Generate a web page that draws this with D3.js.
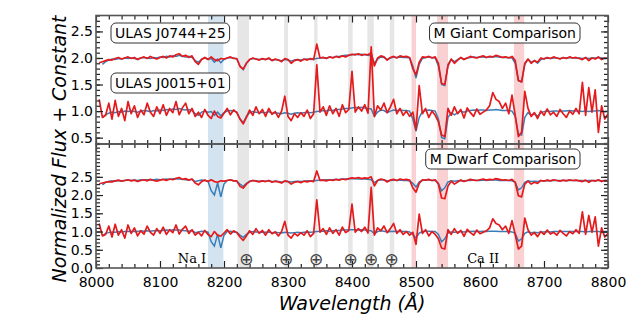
<!DOCTYPE html>
<html>
<head>
<meta charset="utf-8">
<script src="https://cdn.jsdelivr.net/npm/d3@7"></script>
<style>
body { margin: 0; background: #ffffff; }
text { font-family: "DejaVu Sans", sans-serif; fill: #000; }
</style>
</head>
<body>
<div id="chart_box"></div>
<script>
// wavelength grid (Angstrom)
var wave = [
    8005, 8010, 8015, 8020, 8025, 8030, 8035, 8040, 8045, 8050,
    8055, 8060, 8065, 8070, 8075, 8080, 8085, 8090, 8095, 8100,
    8105, 8110, 8115, 8120, 8125, 8130, 8135, 8140, 8145, 8150,
    8155, 8160, 8165, 8170, 8175, 8180, 8185, 8190, 8195, 8200,
    8205, 8210, 8215, 8220, 8225, 8230, 8235, 8240, 8245, 8250,
    8255, 8260, 8265, 8270, 8275, 8280, 8285, 8290, 8295, 8300,
    8305, 8310, 8315, 8320, 8325, 8330, 8335, 8340, 8345, 8350,
    8355, 8360, 8365, 8370, 8375, 8380, 8385, 8390, 8395, 8400,
    8405, 8410, 8415, 8420, 8425, 8430, 8435, 8440, 8445, 8450,
    8455, 8460, 8465, 8470, 8475, 8480, 8485, 8490, 8495, 8500,
    8505, 8510, 8515, 8520, 8525, 8530, 8535, 8540, 8545, 8550,
    8555, 8560, 8565, 8570, 8575, 8580, 8585, 8590, 8595, 8600,
    8605, 8610, 8615, 8620, 8625, 8630, 8635, 8640, 8645, 8650,
    8655, 8660, 8665, 8670, 8675, 8680, 8685, 8690, 8695, 8700,
    8705, 8710, 8715, 8720, 8725, 8730, 8735, 8740, 8745, 8750,
    8755, 8760, 8765, 8770, 8775, 8780, 8785, 8790, 8795, 8800
];

// ULAS J0744+25 (red, upper spectrum)
var j0744 = [
    0.91, 0.93, 0.95, 0.97, 0.96, 0.99, 1.01, 0.98, 1.00, 1.02,
    0.99, 1.01, 0.97, 1.00, 1.02, 0.99, 1.03, 1.00, 0.98, 1.01,
    1.03, 1.00, 1.04, 1.02, 1.06, 1.08, 1.03, 1.05, 1.01, 1.04,
    0.93, 0.88, 0.97, 1.01, 0.97, 1.02, 0.97, 0.95, 0.99, 0.98,
    1.00, 1.02, 0.99, 0.99, 0.84, 0.79, 0.90, 0.97, 1.00, 0.98,
    0.96, 0.99, 0.97, 1.00, 0.95, 0.98, 0.96, 0.93, 0.99, 0.97,
    0.90, 0.95, 0.97, 0.94, 0.98, 0.96, 0.99, 0.97, 1.26, 1.00,
    1.01, 0.99, 1.02, 1.00, 1.03, 1.01, 1.04, 1.02, 1.05, 1.07,
    1.06, 1.08, 1.05, 1.07, 1.06, 1.10, 0.85, 1.00, 1.04, 1.02,
    0.96, 1.01, 1.03, 1.00, 1.04, 1.02, 1.03, 1.01, 0.80, 0.68,
    0.92, 1.02, 1.01, 1.03, 1.00, 1.02, 0.90, 0.52, 0.50, 0.85,
    0.98, 0.90, 0.96, 1.01, 0.97, 1.00, 1.03, 1.01, 1.00, 1.02,
    1.04, 1.01, 1.03, 1.02, 1.05, 1.03, 1.01, 1.02, 1.00, 1.03,
    0.95, 0.58, 0.55, 0.90, 0.98, 0.90, 0.95, 0.92, 1.00, 0.98,
    1.01, 0.99, 1.02, 1.00, 0.98, 1.01, 0.99, 1.02, 1.00, 1.01,
    0.99, 0.97, 1.01, 0.95, 1.00, 0.98, 1.02, 0.97, 1.00, 0.99
];

// ULAS J0015+01 (red, lower spectrum)
var j0015 = [
    1.22, 0.88, 0.92, 1.15, 0.85, 1.20, 0.90, 1.05, 0.82, 1.18,
    0.95, 1.10, 0.88, 1.02, 0.93, 1.15, 0.98, 0.90, 1.08, 0.95,
    1.12, 0.92, 1.05, 0.97, 1.18, 0.93, 1.06, 1.15, 0.95, 1.05,
    0.90, 0.98, 0.88, 1.03, 0.92, 0.86, 1.00, 0.90, 0.87, 0.96,
    1.05, 0.93, 1.02, 0.97, 0.85, 0.76, 0.88, 1.02, 0.92, 1.08,
    0.95, 1.03, 0.90, 1.05, 0.94, 0.99, 0.88, 1.00, 1.28, 0.90,
    0.82, 0.95, 0.88, 0.97, 0.90, 1.02, 0.86, 0.95, 1.87, 0.98,
    1.08, 0.92, 1.10, 0.95, 1.05, 0.90, 1.12, 0.97, 1.03, 1.75,
    0.98, 1.08, 1.00, 1.12, 0.96, 2.21, 0.90, 1.10, 1.02, 1.15,
    0.97, 1.08, 1.22, 0.95, 1.05, 0.92, 1.00, 0.90, 0.98, 0.65,
    1.48, 0.95, 1.05, 0.88, 1.00, 0.92, 0.80, 0.55, 0.52, 1.05,
    0.92, 1.08, 0.95, 1.03, 0.87, 1.06, 0.97, 0.90, 1.04, 0.94,
    0.98, 1.02, 1.10, 1.35, 1.22, 1.18, 1.05, 1.15, 0.95, 1.30,
    0.92, 0.52, 0.60, 1.37, 1.05, 0.90, 0.97, 0.86, 1.00, 0.92,
    1.04, 0.93, 0.98, 0.90, 1.03, 0.95, 0.88, 1.00, 0.94, 1.05,
    0.95, 1.54, 0.92, 1.44, 0.98, 1.40, 0.60, 1.10, 0.85, 0.95
];

// M giant comparison template (blue, top panel)
var giantTemplate = [
    null, 0.88, 0.93, 0.96, 0.98, 0.97, 0.99, 0.98, 1.00, 0.99,
    1.00, 0.99, 0.98, 1.00, 1.01, 1.00, 0.99, 1.01, 1.00, 1.02,
    1.01, 1.03, 1.02, 1.04, 1.03, 1.05, 1.03, 1.02, 1.03, 1.01,
    0.95, 0.92, 0.98, 1.00, 0.98, 0.99, 0.92, 0.98, 0.91, 0.97,
    1.00, 1.01, 1.00, 0.98, 0.85, 0.78, 0.90, 0.97, 0.99, 0.98,
    0.97, 0.98, 0.97, 0.99, 0.96, 0.97, 0.96, 0.95, 0.97, 0.96,
    0.94, 0.96, 0.97, 0.96, 0.97, 0.98, 0.97, 0.98, 0.99, 1.00,
    1.01, 1.00, 1.02, 1.01, 1.03, 1.03, 1.04, 1.05, 1.05, 1.06,
    1.07, 1.06, 1.07, 1.06, 1.05, 1.04, 0.90, 0.98, 1.02, 1.01,
    0.97, 1.00, 1.02, 1.01, 1.02, 1.01, 1.01, 1.00, 0.85, 0.62,
    0.88, 0.99, 1.01, 1.02, 1.01, 1.00, 0.85, 0.50, 0.48, 0.88,
    0.97, 0.93, 0.97, 1.00, 0.98, 1.00, 1.01, 1.02, 1.01, 1.02,
    1.02, 1.01, 1.02, 1.02, 1.03, 1.02, 1.01, 1.01, 1.01, 1.00,
    0.90, 0.57, 0.55, 0.88, 0.97, 0.92, 0.95, 0.90, 0.97, 0.99,
    1.00, 0.99, 1.00, 1.00, 0.99, 1.00, 1.00, 1.01, 1.00, 1.00,
    1.00, 0.99, 1.00, 0.99, 1.00, 1.00, 1.01, 1.00, 0.99, 1.00
];

// M dwarf comparison template (blue, bottom panel)
var dwarfTemplate = [
    null, 0.88, 0.95, 0.97, 0.99, 0.98, 1.00, 0.99, 1.00, 1.01,
    1.00, 1.01, 1.00, 1.02, 1.01, 1.02, 1.01, 1.02, 1.03, 1.02,
    1.03, 1.04, 1.03, 1.05, 1.04, 1.04, 1.03, 1.02, 1.01, 1.03,
    0.97, 0.99, 1.01, 1.00, 0.98, 0.72, 0.60, 0.93, 0.55, 0.90,
    1.00, 1.01, 0.99, 0.98, 0.90, 0.84, 0.92, 0.98, 1.00, 0.99,
    0.98, 0.99, 0.98, 0.99, 0.97, 0.98, 0.97, 0.96, 0.98, 0.97,
    0.96, 0.97, 0.98, 0.97, 0.98, 0.99, 0.98, 0.99, 1.00, 1.01,
    1.01, 1.02, 1.01, 1.02, 1.03, 1.03, 1.04, 1.04, 1.05, 1.05,
    1.05, 1.04, 1.05, 1.04, 1.03, 1.02, 0.94, 1.00, 1.02, 1.01,
    0.99, 1.00, 1.01, 1.00, 1.01, 1.00, 1.00, 0.99, 0.92, 0.82,
    0.96, 1.00, 1.01, 1.01, 1.00, 1.00, 0.92, 0.72, 0.80, 0.96,
    0.99, 0.98, 0.99, 1.00, 0.99, 1.00, 1.00, 1.01, 1.00, 1.00,
    1.01, 1.00, 1.01, 1.01, 1.01, 1.00, 1.00, 1.00, 1.00, 0.99,
    0.95, 0.74, 0.80, 0.95, 0.99, 0.97, 0.98, 0.97, 0.99, 0.99,
    1.00, 0.99, 1.00, 1.00, 1.00, 1.00, 1.00, 1.00, 1.00, 1.00,
    1.00, 1.00, 0.99, 1.00, 1.00, 1.00, 1.00, 0.99, 1.00, 1.00
];

// shaded regions (Angstrom)
var naBands = [[8175, 8199]];
var telluricBands = [[8221, 8239], [8294, 8300], [8341, 8346], [8394, 8401], [8424, 8434], [8459, 8466]];
var caBands = [[8493, 8500], [8533, 8550], [8653, 8669]];
var telluricMarks = [8235, 8297, 8344, 8398, 8430, 8462];

// tick labels
var xTicks = [8000, 8100, 8200, 8300, 8400, 8500, 8600, 8700, 8800];
var topYTicks = [0.5, 1.0, 1.5, 2.0, 2.5];
var bottomYTicks = [0.0, 0.5, 1.0, 1.5, 2.0, 2.5];

// constants added to each spectrum
var topOffsets = [1.0, 0.0];
var bottomOffsets = [1.4, 0.0];

var width = 640, height = 320;
var left = 96, right = 608;
var topPanel = { y0: 15.5, y1: 144, domain: [0.38, 2.8] };
var botPanel = { y0: 144, y1: 268, domain: [0.0, 3.4] };

var red = "#e41a1c", blue = "#377eb8";

var svg = d3.select("#chart_box").append("svg")
    .attr("width", width)
    .attr("height", height);

var x = d3.scaleLinear().domain([8000, 8800]).range([left, right]);

function pairs(values, shift) {
    return wave.map(function (w, i) {
        return [w, values[i] == null ? null : values[i] + shift];
    });
}

function drawPanel(panel, id, template, offsets, yTicks) {
    var y = d3.scaleLinear().domain(panel.domain).range([panel.y1, panel.y0]);

    svg.append("clipPath").attr("id", id)
        .append("rect")
        .attr("x", left).attr("y", panel.y0)
        .attr("width", right - left).attr("height", panel.y1 - panel.y0);

    var g = svg.append("g").attr("clip-path", "url(#" + id + ")");

    // shaded line regions
    function bands(list, color, op) {
        g.selectAll(null).data(list).enter().append("rect")
            .attr("x", function (d) { return x(d[0]); })
            .attr("width", function (d) { return x(d[1]) - x(d[0]); })
            .attr("y", panel.y0)
            .attr("height", panel.y1 - panel.y0)
            .style("fill", color)
            .style("opacity", op);
    }
    bands(naBands, blue, 0.22);
    bands(telluricBands, "#9a9a9a", 0.25);
    bands(caBands, red, 0.2);

    var line = d3.line()
        .defined(function (d) { return d[1] != null; })
        .x(function (d) { return x(d[0]); })
        .y(function (d) { return y(d[1]); });

    var objects = [j0744, j0015];
    offsets.forEach(function (off, k) {
        g.append("path")
            .attr("d", line(pairs(template, off)))
            .style("fill", "none").style("stroke", blue).style("stroke-width", 1.5);
        g.append("path")
            .attr("d", line(pairs(objects[k], off)))
            .style("fill", "none").style("stroke", red).style("stroke-width", 1.7)
            .style("stroke-linejoin", "round");
    });

    // minor / major ticks on all four sides, pointing inward
    var xMinor = d3.range(8000, 8801, 20).filter(function (v) { return v % 100 != 0; });
    var yMinor = d3.range(Math.round(panel.domain[0] * 10), Math.round(panel.domain[1] * 10) + 1)
        .map(function (v) { return v / 10; })
        .filter(function (v) { return v >= panel.domain[0] && v <= panel.domain[1]; });

    function axisGroup(axis, tx, ty) {
        var a = svg.append("g").attr("transform", "translate(" + tx + "," + ty + ")").call(axis);
        a.select(".domain").remove();
        a.selectAll("line").style("stroke", "#222").style("stroke-width", 1.2);
        a.selectAll("text").style("font-size", "14px").style("font-family", "DejaVu Sans").style("fill", "#000");
        return a;
    }

    axisGroup(d3.axisTop(x).tickValues(xMinor).tickSize(-4).tickFormat(""), 0, panel.y0);
    axisGroup(d3.axisTop(x).tickValues(xTicks).tickSize(-7).tickFormat(""), 0, panel.y0);
    axisGroup(d3.axisBottom(x).tickValues(xMinor).tickSize(-4).tickFormat(""), 0, panel.y1);
    axisGroup(d3.axisBottom(x).tickValues(xTicks).tickSize(-7).tickPadding(9)
        .tickFormat(id == "clipBot" ? d3.format("d") : ""), 0, panel.y1);

    axisGroup(d3.axisLeft(y).tickValues(yMinor).tickSize(-4).tickFormat(""), left, 0);
    axisGroup(d3.axisLeft(y).tickValues(yTicks).tickSize(-7).tickPadding(3).tickFormat(d3.format(".1f")), left, 0);
    axisGroup(d3.axisRight(y).tickValues(yMinor).tickSize(-4).tickFormat(""), right, 0);
    axisGroup(d3.axisRight(y).tickValues(yTicks).tickSize(-7).tickFormat(""), right, 0);

    // frame
    svg.append("rect")
        .attr("x", left).attr("y", panel.y0)
        .attr("width", right - left).attr("height", panel.y1 - panel.y0)
        .style("fill", "none").style("stroke", "#555").style("stroke-width", 1.6);

    return y;
}

var yTop = drawPanel(topPanel, "clipTop", giantTemplate, topOffsets, topYTicks);
var yBot = drawPanel(botPanel, "clipBot", dwarfTemplate, bottomOffsets, bottomYTicks);

// rounded label boxes
function labelBox(txt, tx, ty, anchor) {
    var t = svg.append("text")
        .attr("x", tx).attr("y", ty)
        .style("text-anchor", anchor)
        .style("font-size", "14px")
        .text(txt);
    var b = t.node().getBBox();
    svg.insert("rect", function () { return t.node(); })
        .attr("x", b.x - 4).attr("y", b.y - 2)
        .attr("width", b.width + 8).attr("height", b.height + 4)
        .attr("rx", 5)
        .style("fill", "#fff").style("stroke", "#333").style("stroke-width", 1);
}
labelBox("ULAS J0744+25", 115, 38, "start");
labelBox("ULAS J0015+01", 115, 88, "start");
labelBox("M Giant Comparison", 576, 38, "end");
labelBox("M Dwarf Comparison", 576, 164, "end");

// telluric markers and line names
svg.selectAll(".tell").data(telluricMarks).enter().append("text")
    .attr("class", "tell")
    .attr("x", function (d) { return x(d); })
    .attr("y", yBot(0.25) + 6)
    .style("text-anchor", "middle")
    .style("font-size", "17px")
    .style("fill", "#444")
    .text("\u2295");

svg.append("text")
    .attr("x", x(8150)).attr("y", 263)
    .style("text-anchor", "middle")
    .style("font-family", "DejaVu Serif")
    .style("font-size", "13px")
    .text("Na I");

svg.append("text")
    .attr("x", x(8605)).attr("y", 263)
    .style("text-anchor", "middle")
    .style("font-family", "DejaVu Serif")
    .style("font-size", "13px")
    .text("Ca II");

// axis titles
svg.append("text")
    .attr("x", (left + right) / 2).attr("y", 310)
    .style("text-anchor", "middle")
    .style("font-size", "19px")
    .style("font-style", "italic")
    .text("Wavelength (\u00c5)");

svg.append("text")
    .attr("transform", "translate(66," + 149 + ") rotate(-90)")
    .style("text-anchor", "middle")
    .style("font-size", "19px")
    .style("font-style", "italic")
    .text("Normalized Flux + Constant");
</script>
</body>
</html>
